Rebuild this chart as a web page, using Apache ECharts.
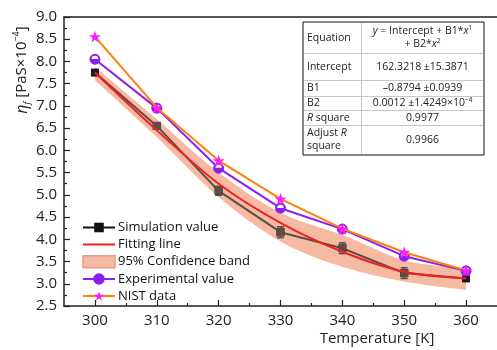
<!DOCTYPE html>
<html><head><meta charset="utf-8">
<script src="https://cdn.jsdelivr.net/npm/echarts@6/dist/echarts.min.js"></script>
<style>html,body{margin:0;padding:0;background:#fff}#c{width:497px;height:350px}</style>
</head><body><div id="c"></div>
<script>
// ---- data ----
var temps = [300, 310, 320, 330, 340, 350, 360];
var simValues = [7.75, 6.55, 5.09, 4.16, 3.80, 3.24, 3.12];
var simErrors = [0, 0.04, 0.10, 0.12, 0.12, 0.12, 0];
var fitValues = [7.75, 6.45, 5.25, 4.37, 3.72, 3.27, 3.12];
var bandUpper = [7.88, 6.70, 5.50, 4.60, 4.10, 3.53, 3.35];
var bandLower = [7.58, 6.30, 4.95, 3.95, 3.38, 3.05, 2.86];
var expValues = [8.05, 6.95, 5.60, 4.70, 4.23, 3.62, 3.29];
var nistValues = [8.56, 6.96, 5.77, 4.91, 4.24, 3.71, 3.30];
var xMajorTicks = [300, 310, 320, 330, 340, 350, 360];
var xMinorTicks = [305, 315, 325, 335, 345, 355];

var FONT = '"Open Sans", "Noto Sans", sans-serif';
function pairs(ys) { return temps.map(function (t, i) { return [t, ys[i]]; }); }
var errData = temps.map(function (t, i) { return [t, simValues[i], simErrors[i]]; });
var bandData = temps.map(function (t, i) { return [t, bandUpper[i], bandLower[i]]; });

var chart = echarts.init(document.getElementById('c'));
var axisColor = '#222';

// smooth path helper (Catmull-Rom -> cubic Bezier)
function smoothSeg(pts, first) {
  var d = first ? 'M' + pts[0][0] + ',' + pts[0][1] : 'L' + pts[0][0] + ',' + pts[0][1];
  var n = pts.length;
  for (var i = 0; i < n - 1; i++) {
    var p0 = pts[Math.max(i - 1, 0)], p1 = pts[i], p2 = pts[i + 1], p3 = pts[Math.min(i + 2, n - 1)];
    var k = 1 / 6;
    var c1x = p1[0] + (p2[0] - p0[0]) * k, c1y = p1[1] + (p2[1] - p0[1]) * k;
    var c2x = p2[0] - (p3[0] - p1[0]) * k, c2y = p2[1] - (p3[1] - p1[1]) * k;
    d += ' C' + c1x + ',' + c1y + ' ' + c2x + ',' + c2y + ' ' + p2[0] + ',' + p2[1];
  }
  return d;
}

// table geometry
var tL = 303, tR = 484, tM = 361;
var rowY = [22, 53, 80, 96, 110, 125, 155];
var tableGraphics = [];
tableGraphics.push({type:'rect', shape:{x:tL, y:rowY[0], width:tR-tL, height:rowY[6]-rowY[0]}, style:{fill:'#fff', stroke:'#111', lineWidth:1}, z:100});
for (var r = 1; r < 6; r++) {
  tableGraphics.push({type:'line', shape:{x1:tL+1, y1:rowY[r]+0.5, x2:tR-1, y2:rowY[r]+0.5}, style:{stroke:'#c8c8c8', lineWidth:1}, z:101});
}
tableGraphics.push({type:'line', shape:{x1:tM+0.5, y1:rowY[0]+1, x2:tM+0.5, y2:rowY[6]-1}, style:{stroke:'#c8c8c8', lineWidth:1}, z:101});
var tRich = {
  it: {fontStyle:'italic', fontSize:10.5, fontFamily:FONT, fill:'#222'},
  sup: {fontSize:6.5, fontFamily:FONT, fill:'#222', verticalAlign:'top', lineHeight:8}
};
function tText(x, y, txt, align) {
  return {type:'text', x:x, y:y, z:102, style:{text:txt, fontSize:10.5, fontFamily:FONT, fill:'#222', align:align||'left', verticalAlign:'middle', rich:tRich, lineHeight:13}};
}
var leftX = tL + 4, midX = (tM + tR) / 2;
tableGraphics.push(tText(leftX, 38, 'Equation'));
tableGraphics.push(tText(midX, 38, '{it|y} = Intercept + B1*{it|x}{sup|1}\n+ B2*{it|x}{sup|2}', 'center'));
tableGraphics.push(tText(leftX, 67, 'Intercept'));
tableGraphics.push(tText(midX, 67, '162.3218 \u00b115.3871', 'center'));
tableGraphics.push(tText(leftX, 88.5, 'B1'));
tableGraphics.push(tText(midX, 88.5, '\u20130.8794 \u00b10.0939', 'center'));
tableGraphics.push(tText(leftX, 103.5, 'B2'));
tableGraphics.push(tText(midX, 103.5, '0.0012 \u00b11.4249\u00d710{sup|\u22124}', 'center'));
tableGraphics.push(tText(leftX, 118, '{it|R} square'));
tableGraphics.push(tText(midX, 118, '0.9977', 'center'));
tableGraphics.push(tText(leftX, 140, 'Adjust {it|R}\nsquare'));
tableGraphics.push(tText(midX, 140, '0.9966', 'center'));

var upperHalfDisk = 'path://M-1,0 A1,1 0 0 1 1,0 Z';
var starPath = 'path://M0,-1 L0.2245,-0.309 L0.951,-0.309 L0.363,0.118 L0.588,0.809 L0,0.382 L-0.588,0.809 L-0.363,0.118 L-0.951,-0.309 L-0.2245,-0.309 Z';

var option = {
  animation: false,
  backgroundColor: '#fff',
  grid: {left: 64, top: 17, right: -3, bottom: 44, containLabel: false},
  xAxis: [
    {type:'value', min:295, max:365, position:'bottom', z:10,
     axisLine:{show:true, onZero:false, lineStyle:{color:axisColor, width:1.5}},
     axisTick:{show:true, inside:true, length:6, customValues:xMajorTicks, lineStyle:{color:axisColor, width:1.2}},
     axisLabel:{show:true, customValues:xMajorTicks, color:'#222', fontSize:15, fontFamily:FONT, margin:7},
     splitLine:{show:false}},
    {type:'value', min:295, max:365, position:'bottom', z:10,
     axisLine:{show:false, onZero:false},
     axisTick:{show:true, inside:true, length:3, customValues:xMinorTicks, lineStyle:{color:axisColor, width:1.2}},
     axisLabel:{show:false}, splitLine:{show:false}},
    {type:'value', min:295, max:365, position:'top', z:10,
     axisLine:{show:true, onZero:false, lineStyle:{color:axisColor, width:1.5}},
     axisTick:{show:false}, axisLabel:{show:false}, splitLine:{show:false}}
  ],
  yAxis: {type:'value', min:2.5, max:9.0, interval:0.5, z:10,
    axisLine:{show:true, onZero:false, lineStyle:{color:axisColor, width:1.5}},
    axisTick:{show:true, inside:true, length:6, lineStyle:{color:axisColor, width:1.2}},
    minorTick:{show:true, splitNumber:2, length:3, lineStyle:{color:axisColor, width:1.2}},
    axisLabel:{color:'#222', fontSize:15, fontFamily:FONT, margin:7, formatter:function(v){return v.toFixed(1);}},
    splitLine:{show:false}},
  legend: {
    orient:'vertical', left:77, top:216, itemWidth:32, itemHeight:12, itemGap:4,
    textStyle:{fontSize:13, fontFamily:FONT, color:'#111', padding:[0,0,0,-2]},
    data:[
      {name:'Simulation value', lineStyle:{color:'#111'}, itemStyle:{color:'#111'}},
      {name:'Fitting line', itemStyle:{opacity:0}},
      {name:'95% Confidence band', icon:'rect', itemStyle:{color:'#f6b9a1', borderColor:'#ea9a80', borderWidth:1.5}},
      {name:'Experimental value'},
      {name:'NIST data'}
    ]
  },
  graphic: [
    {type:'text', x:22, y:70, rotation:Math.PI/2, z:50,
     style:{text:'{i|\u03b7}{s|f} [PaS\u00d710{p|\u22124}]', align:'center', verticalAlign:'middle', fontSize:15, fontFamily:FONT, fill:'#222',
       rich:{i:{fontStyle:'italic', fontSize:16, fontFamily:FONT, fill:'#222'},
             s:{fontStyle:'italic', fontSize:9, fontFamily:FONT, fill:'#222', verticalAlign:'bottom', lineHeight:20},
             p:{fontSize:9, fontFamily:FONT, fill:'#222', verticalAlign:'top', lineHeight:20}}}},
    {type:'text', x:377, y:339, z:50,
     style:{text:'Temperature [K]', align:'center', verticalAlign:'middle', fontSize:15, fontFamily:FONT, fill:'#222'}}
  ].concat(tableGraphics),
  series: [
    {name:'95% Confidence band', type:'custom', data:bandData, z:1, silent:true,
     itemStyle:{color:'#f6b9a1'},
     renderItem:function(params, api){
       if (params.dataIndex !== 0) return null;
       var up = bandData.map(function(d){ return api.coord([d[0], d[1]]); });
       var lo = bandData.map(function(d){ return api.coord([d[0], d[2]]); }).reverse();
       var path = smoothSeg(up, true) + ' ' + smoothSeg(lo, false) + ' Z';
       return {type:'path', shape:{pathData:path}, style:{fill:'#f6b9a1', stroke:null}};
     }},
    {name:'Simulation value', type:'line', data:pairs(simValues), symbol:'rect', symbolSize:8,
     lineStyle:{color:'#5e4c46', width:2}, itemStyle:{color:'#1a1a1a'}, z:3},
    {name:'__simErr', type:'custom', data:errData, z:4, silent:true,
     renderItem:function(params, api){
       var x = api.value(0), y = api.value(1), e = api.value(2);
       if (!e) return null;
       var top = api.coord([x, y + e]), bot = api.coord([x, y - e]);
       var st = {stroke:'#5e4c46', lineWidth:1.6};
       return {type:'group', children:[
         {type:'line', shape:{x1:top[0], y1:top[1], x2:bot[0], y2:bot[1]}, style:st},
         {type:'line', shape:{x1:top[0]-3.5, y1:top[1], x2:top[0]+3.5, y2:top[1]}, style:st},
         {type:'line', shape:{x1:bot[0]-3.5, y1:bot[1], x2:bot[0]+3.5, y2:bot[1]}, style:st},
         {type:'rect', shape:{x:top[0]-4, y:(top[1]+bot[1])/2-4, width:8, height:8}, style:{fill:'#5e4c46'}}
       ]};
     }},
    {name:'Fitting line', type:'line', data:pairs(fitValues), smooth:0.3, symbol:'none',
     lineStyle:{color:'#ee2222', width:2}, itemStyle:{color:'#ee2222'}, z:5},
    {name:'Experimental value', type:'line', data:pairs(expValues), symbol:'circle', symbolSize:10,
     lineStyle:{color:'#8a1ff0', width:2}, itemStyle:{color:'#8a1ff0', borderColor:'#8a1ff0', borderWidth:1}, z:6},
    {name:'__expHalf', type:'line', data:pairs(expValues), symbol:upperHalfDisk, symbolSize:[6.5,3.2], symbolOffset:[0,-1.9],
     lineStyle:{opacity:0, width:0}, itemStyle:{color:'#ffffff'}, silent:true, z:7},
    {name:'NIST data', type:'line', data:pairs(nistValues), symbol:starPath, symbolSize:12,
     lineStyle:{color:'#ff7f0e', width:2}, itemStyle:{color:'#ff1aff'}, z:8}
  ]
};
chart.setOption(option);
</script></body></html>
